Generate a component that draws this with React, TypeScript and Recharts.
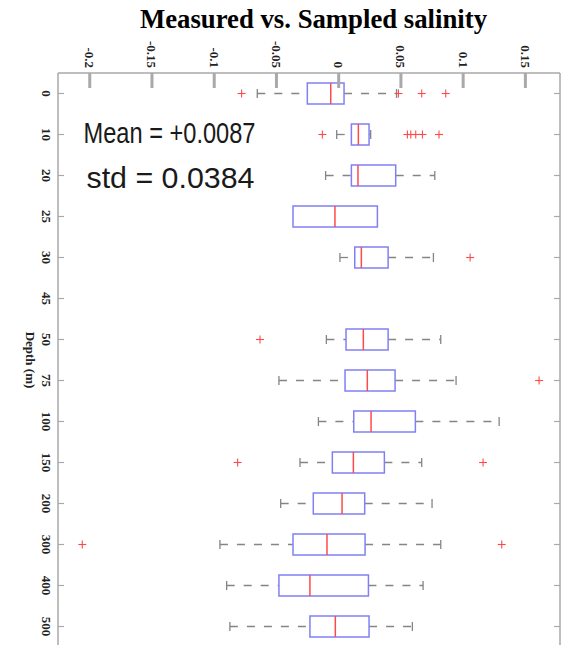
import { ComposedChart, Bar, Scatter, XAxis, YAxis } from 'recharts';

// depth levels (categories, top to bottom)
const depths = ['0', '10', '20', '25', '30', '45', '50', '75', '100', '150', '200', '300', '400', '500'];

// box statistics per depth (45 m has no data)
const lowerWhisker = [-0.0654, -0.0016, -0.0105, -0.0367, 0.001, null, -0.0099, -0.048, -0.0163, -0.0311, -0.0466, -0.0954, -0.09, -0.0874];
const q1 = [-0.0252, 0.0102, 0.0102, -0.0367, 0.0129, null, 0.0059, 0.0051, 0.0121, -0.0051, -0.0204, -0.0367, -0.048, -0.0231];
const median = [-0.0064, 0.0158, 0.0155, -0.003, 0.0182, null, 0.0198, 0.023, 0.026, 0.0118, 0.0027, -0.0094, -0.0231, -0.0027];
const q3 = [0.0043, 0.0244, 0.0458, 0.0311, 0.0397, null, 0.0397, 0.0453, 0.0616, 0.0367, 0.0209, 0.0212, 0.0239, 0.0244];
const upperWhisker = [0.0465, 0.0257, 0.0772, 0.0311, 0.0761, null, 0.082, 0.0943, 0.1289, 0.0667, 0.075, 0.082, 0.0678, 0.0592];

// outliers ("+") per depth
const outliers = [
    [-0.078, 0.048, 0.0667, 0.086],
    [-0.0131, 0.0552, 0.0579, 0.0619, 0.0673, 0.0806],
    [],
    [],
    [0.1056],
    [],
    [-0.0632],
    [0.161],
    [],
    [-0.0812, 0.116],
    [],
    [-0.206, 0.131],
    [],
    [],
];

const xTicks = [-0.2, -0.15, -0.1, -0.05, 0, 0.05, 0.1, 0.15];
const xDomain = [-0.2255, 0.1778];

const meanText = 'Mean = +0.0087';
const stdText = 'std = 0.0384';

const MAX_OUT = 6;
const outKeys = Array.from({ length: MAX_OUT }, (_, k) => `o${k}`);

const rows = depths.map((depth, i) => {
    const row: any = {
        depth,
        lw: lowerWhisker[i],
        q1: q1[i],
        med: median[i],
        q3: q3[i],
        uw: upperWhisker[i],
        range: q1[i] == null ? null : [lowerWhisker[i], upperWhisker[i]],
    };
    outKeys.forEach((k, j) => {
        row[k] = outliers[i][j] ?? null;
    });
    return row;
});

const AXIS_GRAY = '#a9a9a9';
const WHISKER = '#858585';
const BOX_BLUE = '#8080f5';
const RED = '#ff4a4a';
const SERIF = '"Liberation Serif", "Times New Roman", serif';

function BoxShape(props: any) {
    const { x, y, width, height, payload } = props;
    if (!payload || payload.q1 == null) return <g />;
    const { lw, q1: b1, med, q3: b3, uw } = payload;
    const span = uw - lw;
    // linear position inside the bar the library placed from lw..uw
    const px = (v: number) => (span === 0 ? x : x + (width * (v - lw)) / span);
    const cy = y + height / 2;
    const xl = px(lw), x1 = px(b1), xm = px(med), x3 = px(b3), xu = px(uw);
    return (
        <g>
            {xl < x1 && (
                <>
                    <line x1={xl} x2={x1} y1={cy} y2={cy} stroke={WHISKER} strokeWidth={1.3} strokeDasharray="8 9" />
                    <line x1={xl} x2={xl} y1={cy - 4.5} y2={cy + 4.5} stroke={WHISKER} strokeWidth={1.3} />
                </>
            )}
            {xu > x3 && (
                <>
                    <line x1={x3} x2={xu} y1={cy} y2={cy} stroke={WHISKER} strokeWidth={1.3} strokeDasharray="8 9" />
                    <line x1={xu} x2={xu} y1={cy - 4.5} y2={cy + 4.5} stroke={WHISKER} strokeWidth={1.3} />
                </>
            )}
            <rect x={x1} y={y} width={x3 - x1} height={height} fill="none" stroke={BOX_BLUE} strokeWidth={1.5} />
            <line x1={xm} x2={xm} y1={y} y2={y + height} stroke={RED} strokeWidth={1.5} />
        </g>
    );
}

function PlusMark(props: any) {
    const { cx, cy } = props;
    if (cx == null || cy == null || Number.isNaN(cx) || Number.isNaN(cy)) return <g />;
    return (
        <g>
            <line x1={cx - 4} x2={cx + 4} y1={cy} y2={cy} stroke={RED} strokeWidth={1.1} />
            <line x1={cx} x2={cx} y1={cy - 4} y2={cy + 4} stroke={RED} strokeWidth={1.1} />
        </g>
    );
}

function TopTick(props: any) {
    const { x, y, payload } = props;
    return (
        <g>
            <line x1={x} x2={x} y1={y} y2={y + 15} stroke={AXIS_GRAY} strokeWidth={3} />
            <text
                transform={`translate(${x},${y - 5}) rotate(90)`}
                textAnchor="end"
                dominantBaseline="central"
                fontFamily={SERIF}
                fontWeight="bold"
                fontSize={13}
                fill="#222"
            >
                {String(payload.value)}
            </text>
        </g>
    );
}

function BottomTick(props: any) {
    const { x, y } = props;
    return <line x1={x} x2={x} y1={y} y2={y - 6} stroke={AXIS_GRAY} strokeWidth={1.2} />;
}

function LeftTick(props: any) {
    const { x, y, payload } = props;
    return (
        <g>
            <line x1={x} x2={x + 6} y1={y} y2={y} stroke={AXIS_GRAY} strokeWidth={1.2} />
            <text
                transform={`translate(${x - 12},${y}) rotate(90)`}
                textAnchor="middle"
                dominantBaseline="central"
                fontFamily={SERIF}
                fontWeight="bold"
                fontSize={13}
                fill="#222"
            >
                {payload.value}
            </text>
        </g>
    );
}

function RightTick(props: any) {
    const { x, y } = props;
    return <line x1={x} x2={x - 6} y1={y} y2={y} stroke={AXIS_GRAY} strokeWidth={1.2} />;
}

export default function App() {
    return (
        <div style={{ position: 'absolute', left: 0, top: 0, width: 564, height: 645, overflow: 'hidden', background: '#fff' }}>
            <ComposedChart
                layout="vertical"
                width={564}
                height={647}
                data={rows}
                margin={{ top: 0, right: 0, bottom: 0, left: 0 }}
            >
                <XAxis
                    xAxisId="top"
                    orientation="top"
                    type="number"
                    domain={xDomain}
                    allowDataOverflow
                    ticks={xTicks}
                    interval={0}
                    height={73}
                    axisLine={{ stroke: AXIS_GRAY, strokeWidth: 1.5 }}
                    tickLine={false}
                    tickSize={0}
                    tickMargin={0}
                    tick={<TopTick />}
                />
                <XAxis
                    xAxisId="bottom"
                    orientation="bottom"
                    type="number"
                    domain={xDomain}
                    allowDataOverflow
                    ticks={xTicks}
                    interval={0}
                    height={0}
                    axisLine={false}
                    tickLine={false}
                    tickSize={0}
                    tickMargin={0}
                    tick={<BottomTick />}
                />
                <YAxis
                    yAxisId="left"
                    type="category"
                    dataKey="depth"
                    width={58}
                    interval={0}
                    axisLine={{ stroke: AXIS_GRAY, strokeWidth: 1.5 }}
                    tickLine={false}
                    tickSize={0}
                    tickMargin={0}
                    tick={<LeftTick />}
                />
                <YAxis
                    yAxisId="right"
                    orientation="right"
                    type="category"
                    dataKey="depth"
                    width={4}
                    interval={0}
                    axisLine={{ stroke: AXIS_GRAY, strokeWidth: 1.5 }}
                    tickLine={false}
                    tickSize={0}
                    tickMargin={0}
                    tick={<RightTick />}
                />
                <Bar
                    xAxisId="top"
                    yAxisId="left"
                    dataKey="range"
                    barSize={21}
                    shape={(p: any) => <BoxShape {...p} />}
                    isAnimationActive={false}
                />
                {outKeys.map((k) => (
                    <Scatter
                        key={k}
                        xAxisId="top"
                        yAxisId="left"
                        dataKey={k}
                        shape={(p: any) => <PlusMark {...p} />}
                        isAnimationActive={false}
                    />
                ))}
            </ComposedChart>
            <svg
                width={564}
                height={645}
                style={{ position: 'absolute', left: 0, top: 0, pointerEvents: 'none' }}
            >
                <text
                    x={313.5}
                    y={27.5}
                    textAnchor="middle"
                    fontFamily={SERIF}
                    fontWeight="bold"
                    fontSize={27}
                    textLength={347}
                    lengthAdjust="spacingAndGlyphs"
                    fill="#000"
                >
                    Measured vs. Sampled salinity
                </text>
                <text
                    transform="translate(30,360) rotate(90)"
                    textAnchor="middle"
                    dominantBaseline="central"
                    fontFamily={SERIF}
                    fontWeight="bold"
                    fontSize={13}
                    fill="#222"
                >
                    Depth (m)
                </text>
                <text
                    x={83.5}
                    y={143.3}
                    fontFamily='"Liberation Sans", Arial, sans-serif'
                    fontSize={30}
                    textLength={172}
                    lengthAdjust="spacingAndGlyphs"
                    fill="#1a1a1a"
                >
                    {meanText}
                </text>
                <text
                    x={86.5}
                    y={188.3}
                    fontFamily='"Liberation Sans", Arial, sans-serif'
                    fontSize={30}
                    textLength={168}
                    lengthAdjust="spacingAndGlyphs"
                    fill="#1a1a1a"
                >
                    {stdText}
                </text>
            </svg>
        </div>
    );
}
